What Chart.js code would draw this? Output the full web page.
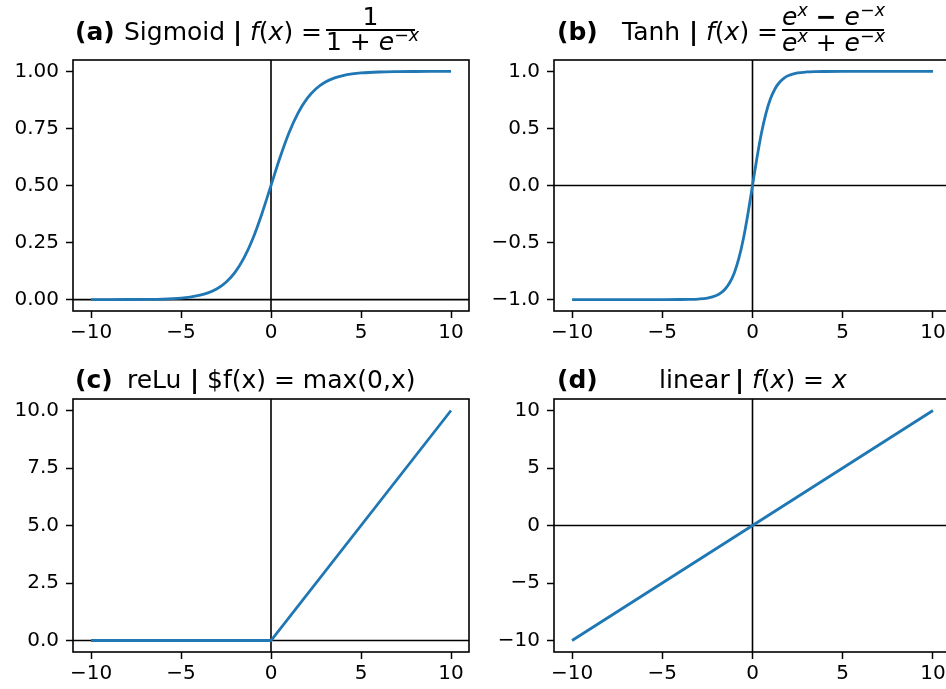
<!DOCTYPE html>
<html>
<head>
<meta charset="utf-8">
<script src="https://cdn.jsdelivr.net/npm/chart.js@4.4.0/dist/chart.umd.min.js"></script>
<style>
  body { margin: 0; width: 946px; height: 689px; overflow: hidden; background: #fff; position: relative; }
  canvas { position: absolute; }
  .t { position: absolute; font-family: "DejaVu Sans", sans-serif; font-size: 25px; line-height: 1; white-space: pre; color: #000; }
  .b { font-weight: bold; }
  .i { font-style: italic; }
  .sup { font-size: 17.5px; position: relative; top: -9px; }
  .c { text-align: center; }
  .bar { position: absolute; height: 1.6px; background: #000; }
</style>
</head>
<body>
<canvas id="chartA" width="480" height="345" style="left:0px;top:0px"></canvas>
<canvas id="chartB" width="480" height="345" style="left:480px;top:0px"></canvas>
<canvas id="chartC" width="480" height="344" style="left:0px;top:345px"></canvas>
<canvas id="chartD" width="480" height="344" style="left:480px;top:345px"></canvas>

<!-- (a) -->
<div class="t b" style="left:75px;top:19px">(a)</div>
<div class="t" style="left:124px;top:19px">Sigmoid</div>
<div class="t b" style="left:233px;top:19px">|</div>
<div class="t" style="left:250px;top:19px"><span class="i">f</span>(<span class="i">x</span>) =</div>
<div class="t c" style="left:326px;top:4px;width:89px">1</div>
<div class="bar" style="left:326px;top:29px;width:89px"></div>
<div class="t c" style="left:326px;top:29px;width:89px">1 + <span class="i">e</span><span class="sup">−<span class="i">x</span></span></div>

<!-- (b) -->
<div class="t b" style="left:557px;top:19px">(b)</div>
<div class="t" style="left:622px;top:19px">Tanh</div>
<div class="t b" style="left:689px;top:19px">|</div>
<div class="t" style="left:706px;top:19px"><span class="i">f</span>(<span class="i">x</span>) =</div>
<div class="t c" style="left:782px;top:4px;width:102px"><span class="i">e</span><span class="sup"><span class="i">x</span></span> <b>−</b> <span class="i">e</span><span class="sup">−<span class="i">x</span></span></div>
<div class="bar" style="left:782px;top:29px;width:102px"></div>
<div class="t c" style="left:782px;top:30px;width:102px"><span class="i">e</span><span class="sup"><span class="i">x</span></span> + <span class="i">e</span><span class="sup">−<span class="i">x</span></span></div>

<!-- (c) -->
<div class="t b" style="left:75px;top:367px">(c)</div>
<div class="t" style="left:127px;top:367px">reLu</div>
<div class="t b" style="left:190px;top:367px">|</div>
<div class="t" style="left:207px;top:367px">$f(x) = max(0,x)</div>

<!-- (d) -->
<div class="t b" style="left:557px;top:367px">(d)</div>
<div class="t" style="left:659px;top:367px">linear</div>
<div class="t b" style="left:735px;top:367px">|</div>
<div class="t" style="left:752px;top:367px"><span class="i">f</span>(<span class="i">x</span>) = <span class="i">x</span></div>

<script>
// values
const xTicks = [-10, -5, 0, 5, 10];

const sigmoidX = [-10, -9, -8, -7, -6, -5, -4.5, -4, -3.5, -3, -2.5, -2, -1.5, -1, -0.5, 0,
                  0.5, 1, 1.5, 2, 2.5, 3, 3.5, 4, 4.5, 5, 6, 7, 8, 9, 10];
const sigmoidY = [0.00005, 0.00012, 0.00034, 0.00091, 0.00247, 0.00669, 0.0110, 0.0180, 0.0293, 0.0474, 0.0759, 0.1192, 0.1824, 0.2689, 0.3775, 0.5,
                  0.6225, 0.7311, 0.8176, 0.8808, 0.9241, 0.9526, 0.9707, 0.9820, 0.9890, 0.9933, 0.9975, 0.9991, 0.9997, 0.9999, 1.0];
const sigmoidTicks = [0, 0.25, 0.5, 0.75, 1];

const tanhX = [-10, -8, -6, -5, -4, -3.5, -3, -2.5, -2, -1.75, -1.5, -1.25, -1, -0.75, -0.5, -0.25, 0,
               0.25, 0.5, 0.75, 1, 1.25, 1.5, 1.75, 2, 2.5, 3, 3.5, 4, 5, 6, 8, 10];
const tanhY = [-1, -1, -1, -0.9999, -0.9993, -0.9982, -0.9951, -0.9866, -0.9640, -0.9414, -0.9051, -0.8483, -0.7616, -0.6351, -0.4621, -0.2449, 0,
               0.2449, 0.4621, 0.6351, 0.7616, 0.8483, 0.9051, 0.9414, 0.9640, 0.9866, 0.9951, 0.9982, 0.9993, 0.9999, 1, 1, 1];
const tanhTicks = [-1, -0.5, 0, 0.5, 1];

const reluX = [-10, 0, 10];
const reluY = [0, 0, 10];
const reluTicks = [0, 2.5, 5, 7.5, 10];

const linearX = [-10, 0, 10];
const linearY = [-10, 0, 10];
const linearTicks = [-10, -5, 0, 5, 10];

const LINE_COLOR = "#1f77b4";

// spines on top, zero lines under the curve
const framePlugin = {
    id: "frame",
    beforeDatasetsDraw(chart) {
        const ctx = chart.ctx;
        const a = chart.chartArea;
        const x0 = chart.scales.x.getPixelForValue(0);
        const y0 = chart.scales.y.getPixelForValue(0);
        ctx.save();
        ctx.strokeStyle = "#000";
        ctx.lineWidth = 1.6;
        ctx.beginPath();
        ctx.moveTo(x0, a.top);
        ctx.lineTo(x0, a.bottom);
        ctx.moveTo(a.left, y0);
        ctx.lineTo(a.right, y0);
        ctx.stroke();
        ctx.restore();
    },
    afterDatasetsDraw(chart) {
        const ctx = chart.ctx;
        const a = chart.chartArea;
        ctx.save();
        ctx.strokeStyle = "#000";
        ctx.lineWidth = 1.6;
        ctx.strokeRect(a.left, a.top, a.right - a.left, a.bottom - a.top);
        ctx.restore();
    }
};

function fmt(v, dec) {
    return v.toFixed(dec).replace("-", "\u2212");
}

function makeChart(id, xs, ys, yMin, yMax, yTicks, yDec, yWidth, xHeight, padding, smooth) {
    const tickFont = { family: "'DejaVu Sans', sans-serif", size: 20 };
    const grid = {
        display: true,
        drawOnChartArea: false,
        drawTicks: true,
        tickLength: 7,
        tickWidth: 1.5,
        tickColor: "#000"
    };
    return new Chart(document.getElementById(id).getContext("2d"), {
        type: "line",
        data: {
            datasets: [{
                data: xs.map((x, i) => ({ x: x, y: ys[i] })),
                borderColor: LINE_COLOR,
                borderWidth: 2.8,
                pointRadius: 0,
                fill: false,
                cubicInterpolationMode: smooth ? "monotone" : "default",
                tension: 0
            }]
        },
        options: {
            responsive: false,
            animation: false,
            devicePixelRatio: 1,
            layout: { padding: padding },
            plugins: { legend: { display: false }, title: { display: false }, tooltip: { enabled: false } },
            scales: {
                x: {
                    type: "linear",
                    min: -11,
                    max: 11,
                    grid: grid,
                    border: { display: false },
                    afterBuildTicks: (scale) => { scale.ticks = xTicks.map(v => ({ value: v })); },
                    afterFit: (scale) => { scale.height = xHeight; },
                    ticks: {
                        autoSkip: false,
                        maxRotation: 0,
                        padding: 3,
                        color: "#000",
                        font: tickFont,
                        callback: (v) => fmt(v, 0)
                    }
                },
                y: {
                    type: "linear",
                    min: yMin,
                    max: yMax,
                    grid: grid,
                    border: { display: false },
                    afterBuildTicks: (scale) => { scale.ticks = yTicks.map(v => ({ value: v })); },
                    afterFit: (scale) => { scale.width = yWidth; },
                    ticks: {
                        autoSkip: false,
                        padding: 7,
                        color: "#000",
                        font: tickFont,
                        callback: (v) => fmt(v, yDec)
                    }
                }
            }
        },
        plugins: [framePlugin]
    });
}

makeChart("chartA", sigmoidX, sigmoidY, -0.05, 1.05, sigmoidTicks, 2, 73, 34, { top: 60, right: 11, left: 0, bottom: 0 }, true);
makeChart("chartB", tanhX, tanhY, -1.1, 1.1, tanhTicks, 1, 74, 34, { top: 60, right: 9, left: 0, bottom: 0 }, true);
makeChart("chartC", reluX, reluY, -0.5, 10.5, reluTicks, 1, 73, 37, { top: 54, right: 11, left: 0, bottom: 0 }, false);
makeChart("chartD", linearX, linearY, -11, 11, linearTicks, 0, 74, 37, { top: 54, right: 9, left: 0, bottom: 0 }, false);
</script>
</body>
</html>
